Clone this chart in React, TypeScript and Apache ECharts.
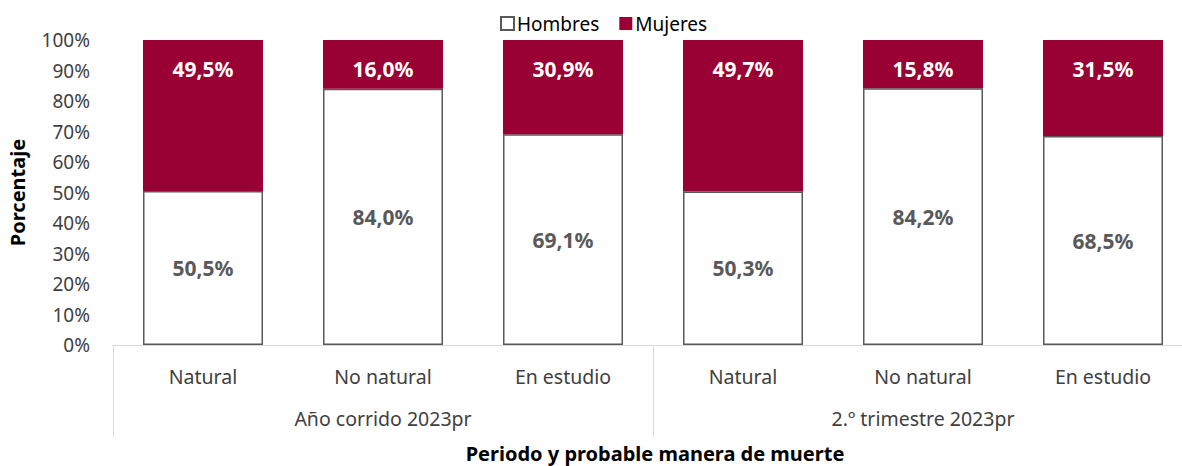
import React, { useEffect, useRef } from "react";
import * as echarts from "echarts";

const categories = ["Natural", "No natural", "En estudio", "Natural", "No natural", "En estudio"];
const groups = ["Año corrido 2023pr", "2.º trimestre 2023pr"];
const hombres = [50.5, 84.0, 69.1, 50.3, 84.2, 68.5];
const mujeres = [49.5, 16.0, 30.9, 49.7, 15.8, 31.5];
const yTicks = [0, 10, 20, 30, 40, 50, 60, 70, 80, 90, 100];

const FONT = "'Noto Sans', 'Open Sans', sans-serif";
const fmt = (v: number) => v.toFixed(1).replace(".", ",") + "%";

export default function App() {
  const ref = useRef<HTMLDivElement>(null);
  useEffect(() => {
    document.body.style.margin = "0";
    const chart = echarts.init(ref.current!, null, { renderer: "svg" });
    chart.setOption({
      animation: false,
      textStyle: { fontFamily: FONT },
      legend: {
        top: 9,
        left: 495,
        itemWidth: 13,
        itemHeight: 13,
        itemGap: 20,
        icon: "rect",
        textStyle: { fontSize: 19, color: "#000", fontFamily: FONT, padding: [0, 0, 0, -2] },
        data: ["Hombres", "Mujeres"],
      },
      grid: { left: 113, top: 40, width: 1080, height: 305, containLabel: false, outerBoundsMode: "none" },
      xAxis: [
        {
          type: "category",
          data: categories,
          position: "bottom",
          axisLine: { show: true, lineStyle: { color: "#d9d9d9", width: 1 } },
          axisTick: { show: false },
          axisLabel: { fontSize: 19.5, color: "#404040", margin: 21, fontFamily: FONT },
        },
        {
          type: "category",
          data: groups,
          position: "bottom",
          axisLine: { show: false },
          axisTick: { show: true, length: 92, lineStyle: { color: "#d9d9d9", width: 1 } },
          axisLabel: { fontSize: 19.5, color: "#404040", margin: 63, fontFamily: FONT },
        },
      ],
      yAxis: {
        type: "value",
        min: 0,
        max: 100,
        interval: 10,
        name: "Porcentaje",
        nameLocation: "middle",
        nameGap: 86,
        nameTextStyle: { fontSize: 20, fontWeight: "bold", color: "#000", fontFamily: FONT },
        axisLine: { show: false },
        axisTick: { show: false },
        splitLine: { show: false },
        axisLabel: {
          fontSize: 19,
          color: "#404040",
          margin: 23,
          fontFamily: FONT,
          formatter: (v: number) => (yTicks.includes(v) ? v + "%" : ""),
        },
      },
      graphic: [
        {
          type: "text",
          x: 655,
          y: 453,
          style: {
            text: "Periodo y probable manera de muerte",
            fontSize: 20,
            fontWeight: "bold",
            fill: "#000",
            fontFamily: FONT,
            textAlign: "center",
            textVerticalAlign: "middle",
          },
        },
      ],
      series: [
        {
          name: "Hombres",
          type: "bar",
          stack: "total",
          barWidth: 120,
          data: hombres,
          itemStyle: { color: "#ffffff", borderColor: "#595959", borderWidth: 1.5 },
          label: {
            show: true,
            position: "inside",
            formatter: (p: any) => fmt(p.value),
            fontSize: 21,
            fontWeight: "bold",
            color: "#595959",
            fontFamily: FONT,
          },
        },
        {
          name: "Mujeres",
          type: "bar",
          stack: "total",
          barWidth: 120,
          data: mujeres,
          itemStyle: { color: "#990033", borderWidth: 0 },
          label: {
            show: true,
            position: "insideTop",
            distance: 18,
            formatter: (p: any) => fmt(p.value),
            fontSize: 21,
            fontWeight: "bold",
            color: "#ffffff",
            fontFamily: FONT,
          },
        },
      ],
    });
    return () => chart.dispose();
  }, []);
  return <div ref={ref} style={{ width: 1182, height: 466 }} />;
}
